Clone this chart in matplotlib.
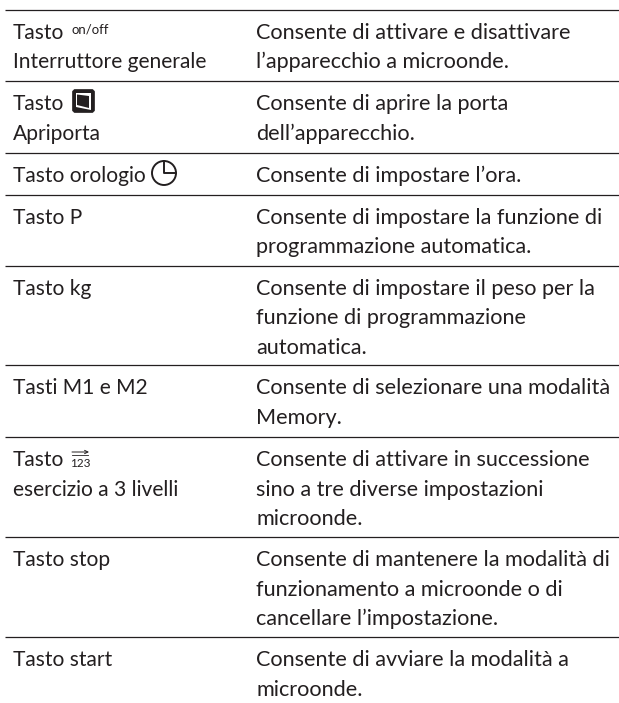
import matplotlib
matplotlib.use('Agg')
import matplotlib.pyplot as plt
from matplotlib.patches import Circle, FancyBboxPatch, Polygon

plt.rcParams['font.family'] = ['Lato', 'DejaVu Sans']

# left column, one list per row
left_labels = [
    ["Tasto", "Interruttore generale"],
    ["Tasto", "Apriporta"],
    ["Tasto orologio"],
    ["Tasto P"],
    ["Tasto kg"],
    ["Tasti M1 e M2"],
    ["Tasto", "esercizio a 3 livelli"],
    ["Tasto stop"],
    ["Tasto start"],
]
right_labels = [
    ["Consente di attivare e disattivare", "l’apparecchio a microonde."],
    ["Consente di aprire la porta", "dell’apparecchio."],
    ["Consente di impostare l’ora."],
    ["Consente di impostare la funzione di", "programmazione automatica."],
    ["Consente di impostare il peso per la", "funzione di programmazione", "automatica."],
    ["Consente di selezionare una modalità", "Memory."],
    ["Consente di attivare in successione", "sino a tre diverse impostazioni", "microonde."],
    ["Consente di mantenere la modalità di", "funzionamento a microonde o di", "cancellare l’impostazione."],
    ["Consente di avviare la modalità a", "microonde."],
]
rules = [10, 81, 153, 194.5, 266, 365, 437, 537, 637]

W, H = 619, 703
ink = '#231f20'
fig = plt.figure(figsize=(W / 100, H / 100), dpi=100)
ax = fig.add_axes([0, 0, 1, 1])
ax.set_xlim(0, W)
ax.set_ylim(H, 0)
ax.axis('off')

for y in rules:
    ax.plot([5, 619], [y, y], color=ink, lw=0.9, solid_capstyle='butt')

fs_left = 15.1
fs_right = 15.6
lh = 29.5
for i in range(len(left_labels)):
    top = rules[i]
    for j, s in enumerate(left_labels[i]):
        ax.text(13, top + 29 + j * lh, s, fontsize=fs_left, color=ink, va='baseline', ha='left')
    for j, s in enumerate(right_labels[i]):
        ax.text(256, top + 29 + j * lh, s, fontsize=fs_right, color=ink, va='baseline', ha='left')

# icons next to the labels
ax.text(71, 34, "on/off", fontsize=9.5, color=ink, va='baseline', ha='left')
ax.add_patch(FancyBboxPatch((73.5, 90.5), 20, 21, boxstyle='round,pad=1,rounding_size=3', fc=ink, ec=ink, lw=0.5))
ax.add_patch(Polygon([[76, 93], [91, 93], [91, 110], [76, 107]], fc='white', ec='none'))
ax.add_patch(Polygon([[77, 94.5], [89, 96], [89, 108], [77, 105]], fc=ink, ec='none'))
ax.add_patch(Circle((164, 173), 12, fc='none', ec=ink, lw=1.4))
ax.plot([164, 164, 176], [161, 173, 173], color=ink, lw=1.4)
ax.annotate('', xy=(89, 452), xytext=(72, 452), arrowprops=dict(arrowstyle='->', color=ink, lw=0.7, mutation_scale=6, shrinkA=0, shrinkB=0))
ax.plot([72, 88], [455, 455], color=ink, lw=0.6)
ax.text(80.5, 467, "123", fontsize=8.5, color=ink, va='baseline', ha='center')

fig.savefig('out.png', dpi=100)
